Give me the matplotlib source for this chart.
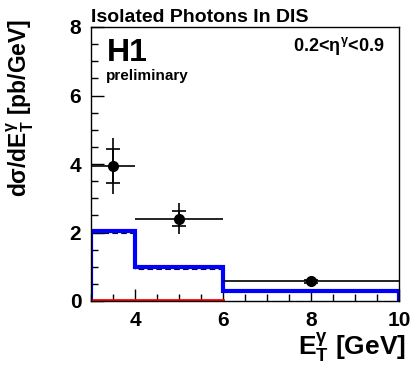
import matplotlib
matplotlib.use("Agg")
import matplotlib.pyplot as plt
from matplotlib.ticker import MultipleLocator

plt.rcParams['font.family'] = ['Liberation Sans', 'DejaVu Sans']
plt.rcParams['font.weight'] = 'bold'
plt.rcParams['mathtext.fontset'] = 'custom'
plt.rcParams['mathtext.rm'] = 'Liberation Sans:bold'
plt.rcParams['mathtext.it'] = 'Liberation Sans:bold'
plt.rcParams['mathtext.bf'] = 'Liberation Sans:bold'

# data points
x_pts = [3.5, 5.0, 8.0]
x_lo = [3.0, 4.0, 6.0]
x_hi = [4.0, 6.0, 10.0]
y_pts = [3.95, 2.4, 0.58]
err_tot = [0.82, 0.45, 0.06]
err_stat = [0.5, 0.22, 0.04]

# predictions (histograms)
bin_edges = [3, 4, 6, 10]
pred_blue = [2.04, 0.99, 0.30]
pred_dash = [1.98, 0.93, 0.30]
pred_red = [0.02, 0.02]
red_edges = [3, 4, 6]

fig = plt.figure(figsize=(4.19, 3.73), dpi=100)
ax = fig.add_axes([91/419, 1 - 301/373, 308/419, 274/373])

ax.stairs(pred_dash, bin_edges, color='black', lw=0.8, ls=(0, (5, 3)), zorder=1)
ax.stairs(pred_blue, bin_edges, color='#0000ff', lw=3, zorder=2)
ax.stairs(pred_red, red_edges, color='red', lw=2, zorder=2)

xerr = [[x - l for x, l in zip(x_pts, x_lo)], [h - x for x, h in zip(x_pts, x_hi)]]
ax.errorbar(x_pts, y_pts, xerr=xerr, yerr=err_tot, fmt='o', color='black',
            ms=7, lw=1.2, capsize=0, zorder=3)
ax.errorbar(x_pts, y_pts, yerr=err_stat, fmt='none', ecolor='black',
            lw=1.2, capsize=5, capthick=1.2, zorder=3)

ax.set_xlim(3, 10)
ax.set_ylim(0, 8)
ax.xaxis.set_major_locator(MultipleLocator(2))
ax.xaxis.set_minor_locator(MultipleLocator(0.5))
ax.yaxis.set_major_locator(MultipleLocator(2))
ax.yaxis.set_minor_locator(MultipleLocator(0.5))
ax.tick_params(which='both', direction='in', top=False, right=False,
               labelsize=15, width=1)
ax.tick_params(which='major', length=9, pad=7)
ax.tick_params(which='minor', length=5)
for lab in ax.get_xticklabels() + ax.get_yticklabels():
    lab.set_fontweight('bold')
for s in ax.spines.values():
    s.set_linewidth(1)

fig.text(91/419, 1 - 17/373, 'Isolated Photons In DIS', fontsize=14,
         fontweight='bold', va='center', ha='left')
ax.text(0.05, 0.905, 'H1', transform=ax.transAxes, fontsize=23,
        fontweight='bold', va='center', ha='left')
ax.text(0.05, 0.82, 'preliminary', transform=ax.transAxes, fontsize=11,
        fontweight='bold', va='center', ha='left')
ax.text(0.955, 0.93, r'0.2<$\eta^{\gamma}$<0.9', transform=ax.transAxes,
        fontsize=13, fontweight='bold', va='center', ha='right')

fig.text(20/419, 1 - 108/373, r'd$\sigma$/dE$_{\mathrm{T}}^{\gamma}$ [pb/GeV]',
         rotation=90, fontsize=16.5, fontweight='bold', va='center', ha='center')
fig.text(406/419, 1 - 347/373, r'E$_{\mathrm{T}}^{\gamma}$ [GeV]',
         fontsize=19, fontweight='bold', va='center', ha='right')

fig.savefig('out.png', dpi=100)
